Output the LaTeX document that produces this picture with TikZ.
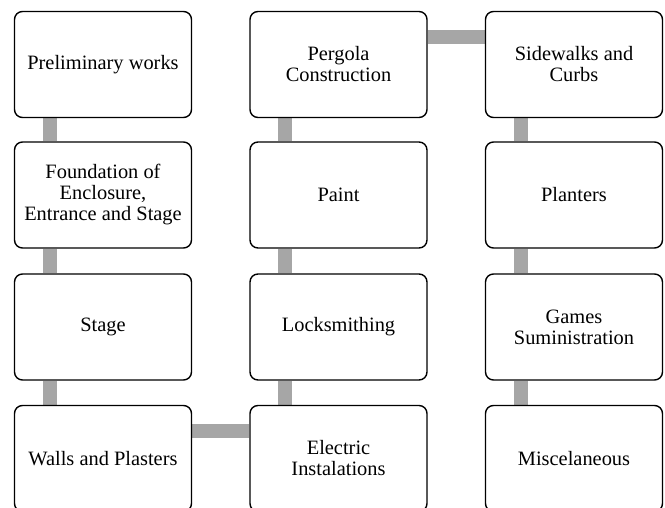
\documentclass[tikz,border=0pt]{standalone}
\usepackage{fontspec}
\setmainfont{Liberation Serif}
\definecolor{cGray}{HTML}{A6A6A6}
\usetikzlibrary{backgrounds}
\tikzset{
  task/.style={draw, line width=1.4pt, rounded corners=8pt, fill=white,
    minimum width=177pt, minimum height=106pt, align=center,
    font=\fontsize{20.4}{21}\selectfont},
  link/.style={cGray, line width=14pt}
}
\begin{document}
\begin{tikzpicture}[x=1pt, y=-1pt]
		\clip (0,0) rectangle (665,508);
		\node [task] (prelim) at (103,64.5) {Preliminary works};
		\node [task] (found) at (103,195) {Foundation of\\Enclosure,\\Entrance and Stage};
		\node [task] (stage) at (103,327) {Stage};
		\node [task] (walls) at (103,458.5) {Walls and Plasters};
		\node [task] (elec) at (338.5,458.5) {Electric\\Instalations};
		\node [task] (lock) at (338.5,327) {Locksmithing};
		\node [task] (paint) at (338.5,195) {Paint};
		\node [task] (pergola) at (338.5,64.5) {Pergola\\Construction};
		\node [task] (side) at (574,64.5) {Sidewalks and\\Curbs};
		\node [task] (plant) at (574,195) {Planters};
		\node [task] (games) at (574,327) {Games\\Suministration};
		\node [task] (misc) at (574,458.5) {Miscelaneous};
		\begin{scope}[on background layer]
		% links down the columns
		\foreach \a/\b in {prelim/found, found/stage, stage/walls, pergola/paint, paint/lock, lock/elec, side/plant, plant/games, games/misc}
			\draw [link] ([xshift=36pt]\a.south west) -- ([xshift=36pt]\b.north west);
		% links across
		\draw [link] ([yshift=-26pt]walls.north east) -- ([yshift=-26pt]elec.north west);
		\draw [link] ([yshift=-26pt]pergola.north east) -- ([yshift=-26pt]side.north west);
		\end{scope}
\end{tikzpicture}
\end{document}
